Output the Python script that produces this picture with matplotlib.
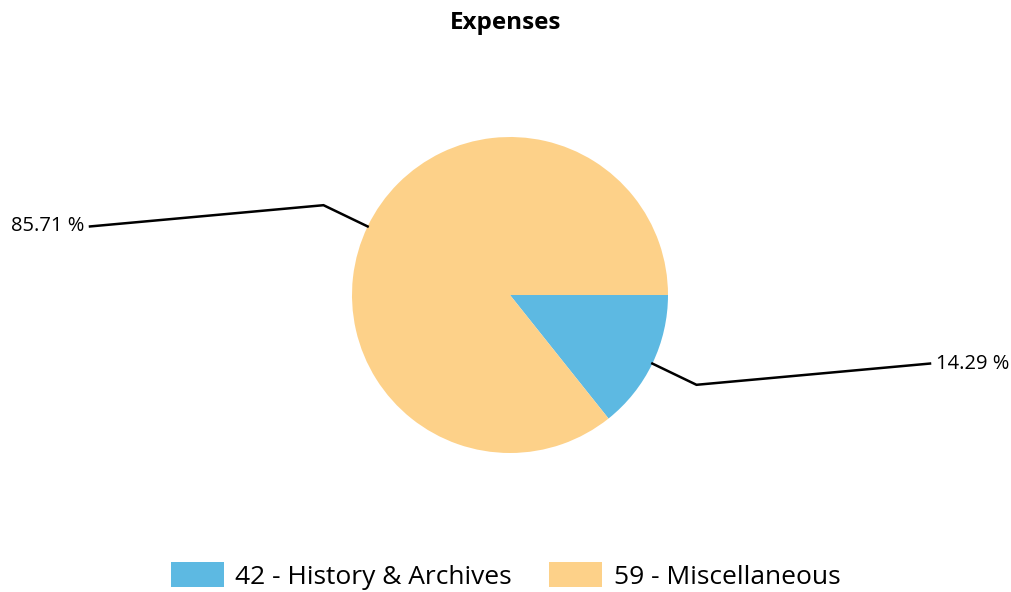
import numpy as np
import matplotlib
matplotlib.use("Agg")
import matplotlib.pyplot as plt
from matplotlib.patches import Patch

categories = ["42 - History & Archives", "59 - Miscellaneous"]
values = [1, 6]
colors = ["#5DB9E2", "#FDD189"]
title = "Expenses"

plt.rcParams['font.family'] = ['Open Sans', 'DejaVu Sans']

W, H = 1011, 592
fig = plt.figure(figsize=(W / 100, H / 100), dpi=100)
ax = fig.add_axes([0, 0, 1, 1])
ax.set_xlim(0, W)
ax.set_ylim(0, H)
ax.set_aspect('equal')
ax.axis('off')

cx, cy, r = 510, H - 295, 158
wedges, _ = ax.pie(values, colors=colors, startangle=0, counterclock=False,
                   center=(cx, cy), radius=r, frame=True,
                   wedgeprops=dict(linewidth=0))
ax.set_xlim(0, W)
ax.set_ylim(0, H)
ax.axis('off')

total = sum(values)
for w, v in zip(wedges, values):
    mid = np.deg2rad((w.theta1 + w.theta2) / 2)
    ex, ey = cx + r * np.cos(mid), cy + r * np.sin(mid)
    bx, by = cx + 1.31 * r * np.cos(mid), cy + 1.31 * r * np.sin(mid)
    side = 1 if np.cos(mid) > 0 else -1
    lx = cx + side * 420
    ax.plot([ex, bx, lx], [ey, by, ey], color='black', lw=1.8,
            solid_joinstyle='miter')
    ax.text(lx + side * 6, ey, f"{100 * v / total:.2f} %",
            ha='left' if side > 0 else 'right', va='center', fontsize=14.5)

fig.text(0.5, 1 - 23 / H, title, ha='center', va='center',
         fontsize=17.5, fontweight='bold')

handles = [Patch(facecolor=c, edgecolor='none') for c in colors]
fig.legend(handles, categories, loc='center', bbox_to_anchor=(0.5, 1 - 576 / H),
           ncol=2, frameon=False, fontsize=19, handlelength=2.0,
           handleheight=1.05, handletextpad=0.45, columnspacing=1.4)

fig.savefig("out.png", dpi=100)
